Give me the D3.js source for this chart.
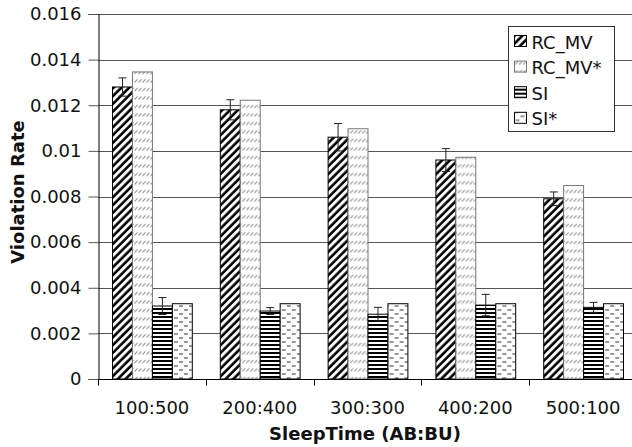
<!DOCTYPE html>
<html>
<head>
<meta charset="utf-8">
<script src="https://cdn.jsdelivr.net/npm/d3@7"></script>
<style>
  body { margin: 0; background: #fff; }
  text { font-family: "DejaVu Sans", Verdana, sans-serif; fill: #111; }
</style>
</head>
<body>
<svg id="chart" width="632" height="447"></svg>
<script>
// data
var categories = ["100:500", "200:400", "300:300", "400:200", "500:100"];
var seriesNames = ["RC_MV", "RC_MV*", "SI", "SI*"];
var rcMv = [0.0128, 0.0118, 0.0106, 0.0096, 0.0079];
var rcMvErr = [0.0004, 0.00044, 0.0006, 0.0005, 0.0003];
var rcMvStar = [0.01346, 0.01222, 0.01097, 0.00972, 0.00848];
var si = [0.0032, 0.00298, 0.00284, 0.00324, 0.00314];
var siErr = [0.00037, 0.00015, 0.0003, 0.00047, 0.00022];
var siStar = [0.0033, 0.0033, 0.0033, 0.0033, 0.0033];
var yTicks = [0, 0.002, 0.004, 0.006, 0.008, 0.01, 0.012, 0.014, 0.016];

var svg = d3.select("#chart"),
  margin = { top: 14, right: -5, bottom: 68, left: 98 },
  width = +svg.attr("width"),
  height = +svg.attr("height");

var defs = svg.append("defs");

// wide black diagonal stripes
var p1 = defs.append("pattern").attr("id", "pRc")
  .attr("patternUnits", "userSpaceOnUse")
  .attr("width", 5.5).attr("height", 5.5)
  .attr("patternTransform", "rotate(45)");
p1.append("rect").attr("width", 5.5).attr("height", 5.5).attr("fill", "#fff");
p1.append("line").attr("x1", 1.5).attr("y1", 0).attr("x2", 1.5).attr("y2", 5.5)
  .attr("stroke", "#000").attr("stroke-width", 2.6);

// small grey slashes
var p2 = defs.append("pattern").attr("id", "pRcStar")
  .attr("patternUnits", "userSpaceOnUse")
  .attr("width", 4).attr("height", 8.5);
p2.append("rect").attr("width", 4).attr("height", 8.5).attr("fill", "#fff");
p2.append("line").attr("x1", 0.5).attr("y1", 6).attr("x2", 3.5).attr("y2", 3)
  .attr("stroke", "#888").attr("stroke-width", 1);

// horizontal black lines
var p3 = defs.append("pattern").attr("id", "pSi")
  .attr("patternUnits", "userSpaceOnUse")
  .attr("width", 4).attr("height", 4);
p3.append("rect").attr("width", 4).attr("height", 4).attr("fill", "#fff");
p3.append("rect").attr("y", 0).attr("width", 4).attr("height", 2).attr("fill", "#000");

// dashed horizontal lines
var p4 = defs.append("pattern").attr("id", "pSiStar")
  .attr("patternUnits", "userSpaceOnUse")
  .attr("width", 10).attr("height", 8);
p4.append("rect").attr("width", 10).attr("height", 8).attr("fill", "#fff");
p4.append("line").attr("x1", 1).attr("y1", 2).attr("x2", 5).attr("y2", 2)
  .attr("stroke", "#333").attr("stroke-width", 1);
p4.append("line").attr("x1", 6).attr("y1", 6).attr("x2", 10).attr("y2", 6)
  .attr("stroke", "#333").attr("stroke-width", 1);

var fills = ["url(#pRc)", "url(#pRcStar)", "url(#pSi)", "url(#pSiStar)"];
var strokes = ["#000", "#777", "#000", "#000"];

var x = d3.scaleBand()
  .domain(categories)
  .range([margin.left, 637])
  .paddingInner(0).paddingOuter(0);

var x1 = d3.scaleBand()
  .domain(seriesNames)
  .range([14, x.bandwidth() - 14]);

var y = d3.scaleLinear()
  .domain([0, 0.016])
  .range([379, 14]);

// gridlines
svg.append("g").selectAll("line")
  .data(yTicks.filter(function (d) { return d > 0; }))
  .join("line")
  .attr("x1", margin.left).attr("x2", width)
  .attr("y1", function (d) { return Math.round(y(d)) + 0.5; })
  .attr("y2", function (d) { return Math.round(y(d)) + 0.5; })
  .attr("stroke", "#555").attr("stroke-width", 1);

var table = categories.map(function (c, i) {
  return {
    cat: c,
    vals: [
      { s: "RC_MV", v: rcMv[i], e: rcMvErr[i] },
      { s: "RC_MV*", v: rcMvStar[i], e: 0 },
      { s: "SI", v: si[i], e: siErr[i] },
      { s: "SI*", v: siStar[i], e: 0 }
    ]
  };
});

var groups = svg.append("g").selectAll("g")
  .data(table)
  .join("g")
  .attr("transform", function (d) { return "translate(" + x(d.cat) + ",0)"; });

groups.selectAll("rect")
  .data(function (d) { return d.vals; })
  .join("rect")
  .attr("x", function (d) { return x1(d.s) + 0.5; })
  .attr("y", function (d) { return y(d.v); })
  .attr("width", x1.bandwidth())
  .attr("height", function (d) { return y(0) - y(d.v); })
  .attr("fill", function (d, i) { return fills[i]; })
  .attr("stroke", function (d, i) { return strokes[i]; })
  .attr("stroke-width", 1);

// error bars
var eb = groups.selectAll("g.err")
  .data(function (d) { return d.vals.filter(function (v) { return v.e > 0; }); })
  .join("g").attr("class", "err");

eb.append("line")
  .attr("x1", function (d) { return x1(d.s) + x1.bandwidth() / 2 + 0.5; })
  .attr("x2", function (d) { return x1(d.s) + x1.bandwidth() / 2 + 0.5; })
  .attr("y1", function (d) { return y(d.v + d.e); })
  .attr("y2", function (d) { return y(d.v - d.e); })
  .attr("stroke", "#222").attr("stroke-width", 1);

[1, -1].forEach(function (sign) {
  eb.append("line")
    .attr("x1", function (d) { return x1(d.s) + x1.bandwidth() / 2 - 3.5; })
    .attr("x2", function (d) { return x1(d.s) + x1.bandwidth() / 2 + 4.5; })
    .attr("y1", function (d) { return y(d.v + sign * d.e); })
    .attr("y2", function (d) { return y(d.v + sign * d.e); })
    .attr("stroke", "#222").attr("stroke-width", 1);
});

// axes
svg.append("g")
  .attr("class", "y-axis")
  .attr("transform", "translate(" + (margin.left + 0.5) + ",0)")
  .call(d3.axisLeft(y).tickValues(yTicks).tickSize(10).tickPadding(7)
    .tickFormat(function (d) { return d === 0 ? "0" : d3.format("~g")(d); }))
  .call(function (g) {
    g.select(".domain").attr("stroke", "#000");
    g.selectAll(".tick line").attr("stroke", "#555");
    g.selectAll("text").style("font-size", "18px").attr("fill", "#111");
  });

var xAxis = d3.axisBottom(x).tickSize(0).tickPadding(22);
var xg = svg.append("g")
  .attr("class", "x-axis")
  .attr("transform", "translate(0," + (y(0) + 0.5) + ")")
  .call(xAxis)
  .call(function (g) {
    g.select(".domain").remove();
    g.selectAll("text").style("font-size", "18px").attr("fill", "#111");
  });

xg.append("line")
  .attr("x1", margin.left).attr("x2", width)
  .attr("stroke", "#000");

// band boundary ticks
xg.selectAll("line.btick")
  .data(categories)
  .join("line")
  .attr("class", "btick")
  .attr("x1", function (d) { return Math.round(x(d)) + 0.5; })
  .attr("x2", function (d) { return Math.round(x(d)) + 0.5; })
  .attr("y1", 0).attr("y2", 6)
  .attr("stroke", "#000");

// axis titles
svg.append("text")
  .attr("x", 365).attr("y", 440)
  .attr("text-anchor", "middle")
  .style("font-size", "18px").style("font-weight", "bold")
  .text("SleepTime (AB:BU)");

svg.append("text")
  .attr("transform", "translate(24,192) rotate(-90)")
  .attr("text-anchor", "middle")
  .style("font-size", "18px").style("font-weight", "bold")
  .text("Violation Rate");

// legend
var legend = svg.append("g").attr("transform", "translate(508.5,26.5)");
legend.append("rect")
  .attr("width", 106).attr("height", 105)
  .attr("fill", "#fff").attr("stroke", "#333");

var items = legend.selectAll("g.item")
  .data(seriesNames)
  .join("g").attr("class", "item")
  .attr("transform", function (d, i) { return "translate(6," + (15 + i * 25.6) + ")"; });

items.append("rect")
  .attr("x", 0).attr("y", -6)
  .attr("width", 12).attr("height", 11)
  .attr("fill", function (d, i) { return fills[i]; })
  .attr("stroke", function (d, i) { return strokes[i]; });

items.append("text")
  .attr("x", 17).attr("y", 7)
  .style("font-size", "18px")
  .text(function (d) { return d; });
</script>
</body>
</html>
